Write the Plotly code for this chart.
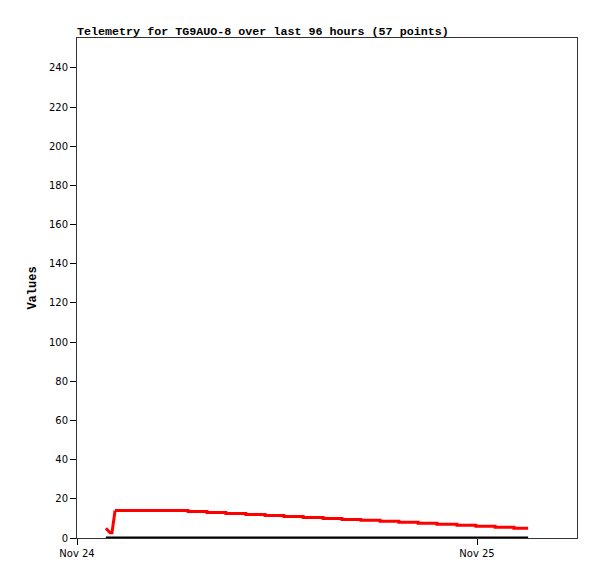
import plotly.graph_objects as go

# Red series (telemetry value) - times and values
red_times = [
    "2024-11-24 01:44", "2024-11-24 01:59", "2024-11-24 02:06", "2024-11-24 02:10",
    "2024-11-24 02:13", "2024-11-24 02:17", "2024-11-24 04:30", "2024-11-24 06:40",
    "2024-11-24 07:48", "2024-11-24 08:56", "2024-11-24 10:08", "2024-11-24 11:17",
    "2024-11-24 12:25", "2024-11-24 13:34", "2024-11-24 14:46", "2024-11-24 15:54",
    "2024-11-24 17:02", "2024-11-24 18:11", "2024-11-24 19:19", "2024-11-24 20:28",
    "2024-11-24 21:36", "2024-11-24 22:48", "2024-11-24 23:56", "2024-11-25 01:05",
    "2024-11-25 02:13", "2024-11-25 03:04",
]
red_values = [
    5.0, 2.7, 2.7, 7.0,
    11.0, 14.0, 14.0, 13.5,
    13.0, 12.5, 12.0, 11.5,
    11.0, 10.5, 10.0, 9.5,
    9.0, 8.5, 8.0, 7.5,
    7.0, 6.5, 6.0, 5.5,
    5.0, 5.0,
]

# Black series (constant zero)
black_times = ["2024-11-24 01:44", "2024-11-25 03:04"]
black_values = [0, 0]

x_tickvals = ["2024-11-24 00:00", "2024-11-25 00:00"]
x_ticktext = ["Nov 24", "Nov 25"]
x_range = ["2024-11-24 00:00", "2024-11-25 06:00"]
y_range = [0, 255.3]

fig = go.Figure()
fig.add_trace(go.Scatter(x=black_times, y=black_values, mode="lines",
                         line=dict(color="black", width=3), showlegend=False))
# start of the red series (sloped segments)
fig.add_trace(go.Scatter(x=red_times[:6], y=red_values[:6], mode="lines",
                         line=dict(color="#ff0000", width=3, shape="linear"), showlegend=False))
# rest of the red series (held values, stepping down)
fig.add_trace(go.Scatter(x=red_times[5:], y=red_values[5:], mode="lines",
                         line=dict(color="#ff0000", width=3, shape="hv"), showlegend=False))

# page body has an 8px default margin, so the figure is sized to fit the window
W, H = 589, 571
fig.update_layout(
    width=W, height=H,
    margin=dict(l=69, r=20, t=30, b=41),
    paper_bgcolor="white", plot_bgcolor="white",
    title=dict(text="<b>Telemetry for TG9AUO-8 over last 96 hours (57 points)</b>",
               x=69/W, xanchor="left", y=1-23/H, yanchor="middle",
               font=dict(family="Liberation Mono", size=11.7, color="black")),
    xaxis=dict(type="date", range=x_range, tickvals=x_tickvals, ticktext=x_ticktext,
               showgrid=False, zeroline=False, showline=True, linecolor="#333333",
               linewidth=1, mirror=True, ticks="outside", ticklen=6, tickcolor="black",
               tickfont=dict(family="DejaVu Sans", size=10, color="black")),
    yaxis=dict(range=y_range, tick0=0, dtick=20, showgrid=False, zeroline=False,
               showline=True, linecolor="#333333", linewidth=1, mirror=True,
               ticks="outside", ticklen=6, tickcolor="black",
               tickfont=dict(family="DejaVu Sans", size=10, color="black"),
               title=dict(text="<b>Values</b>", standoff=9,
                          font=dict(family="Liberation Mono", size=12, color="black"))),
)

fig.write_html("out.html")
